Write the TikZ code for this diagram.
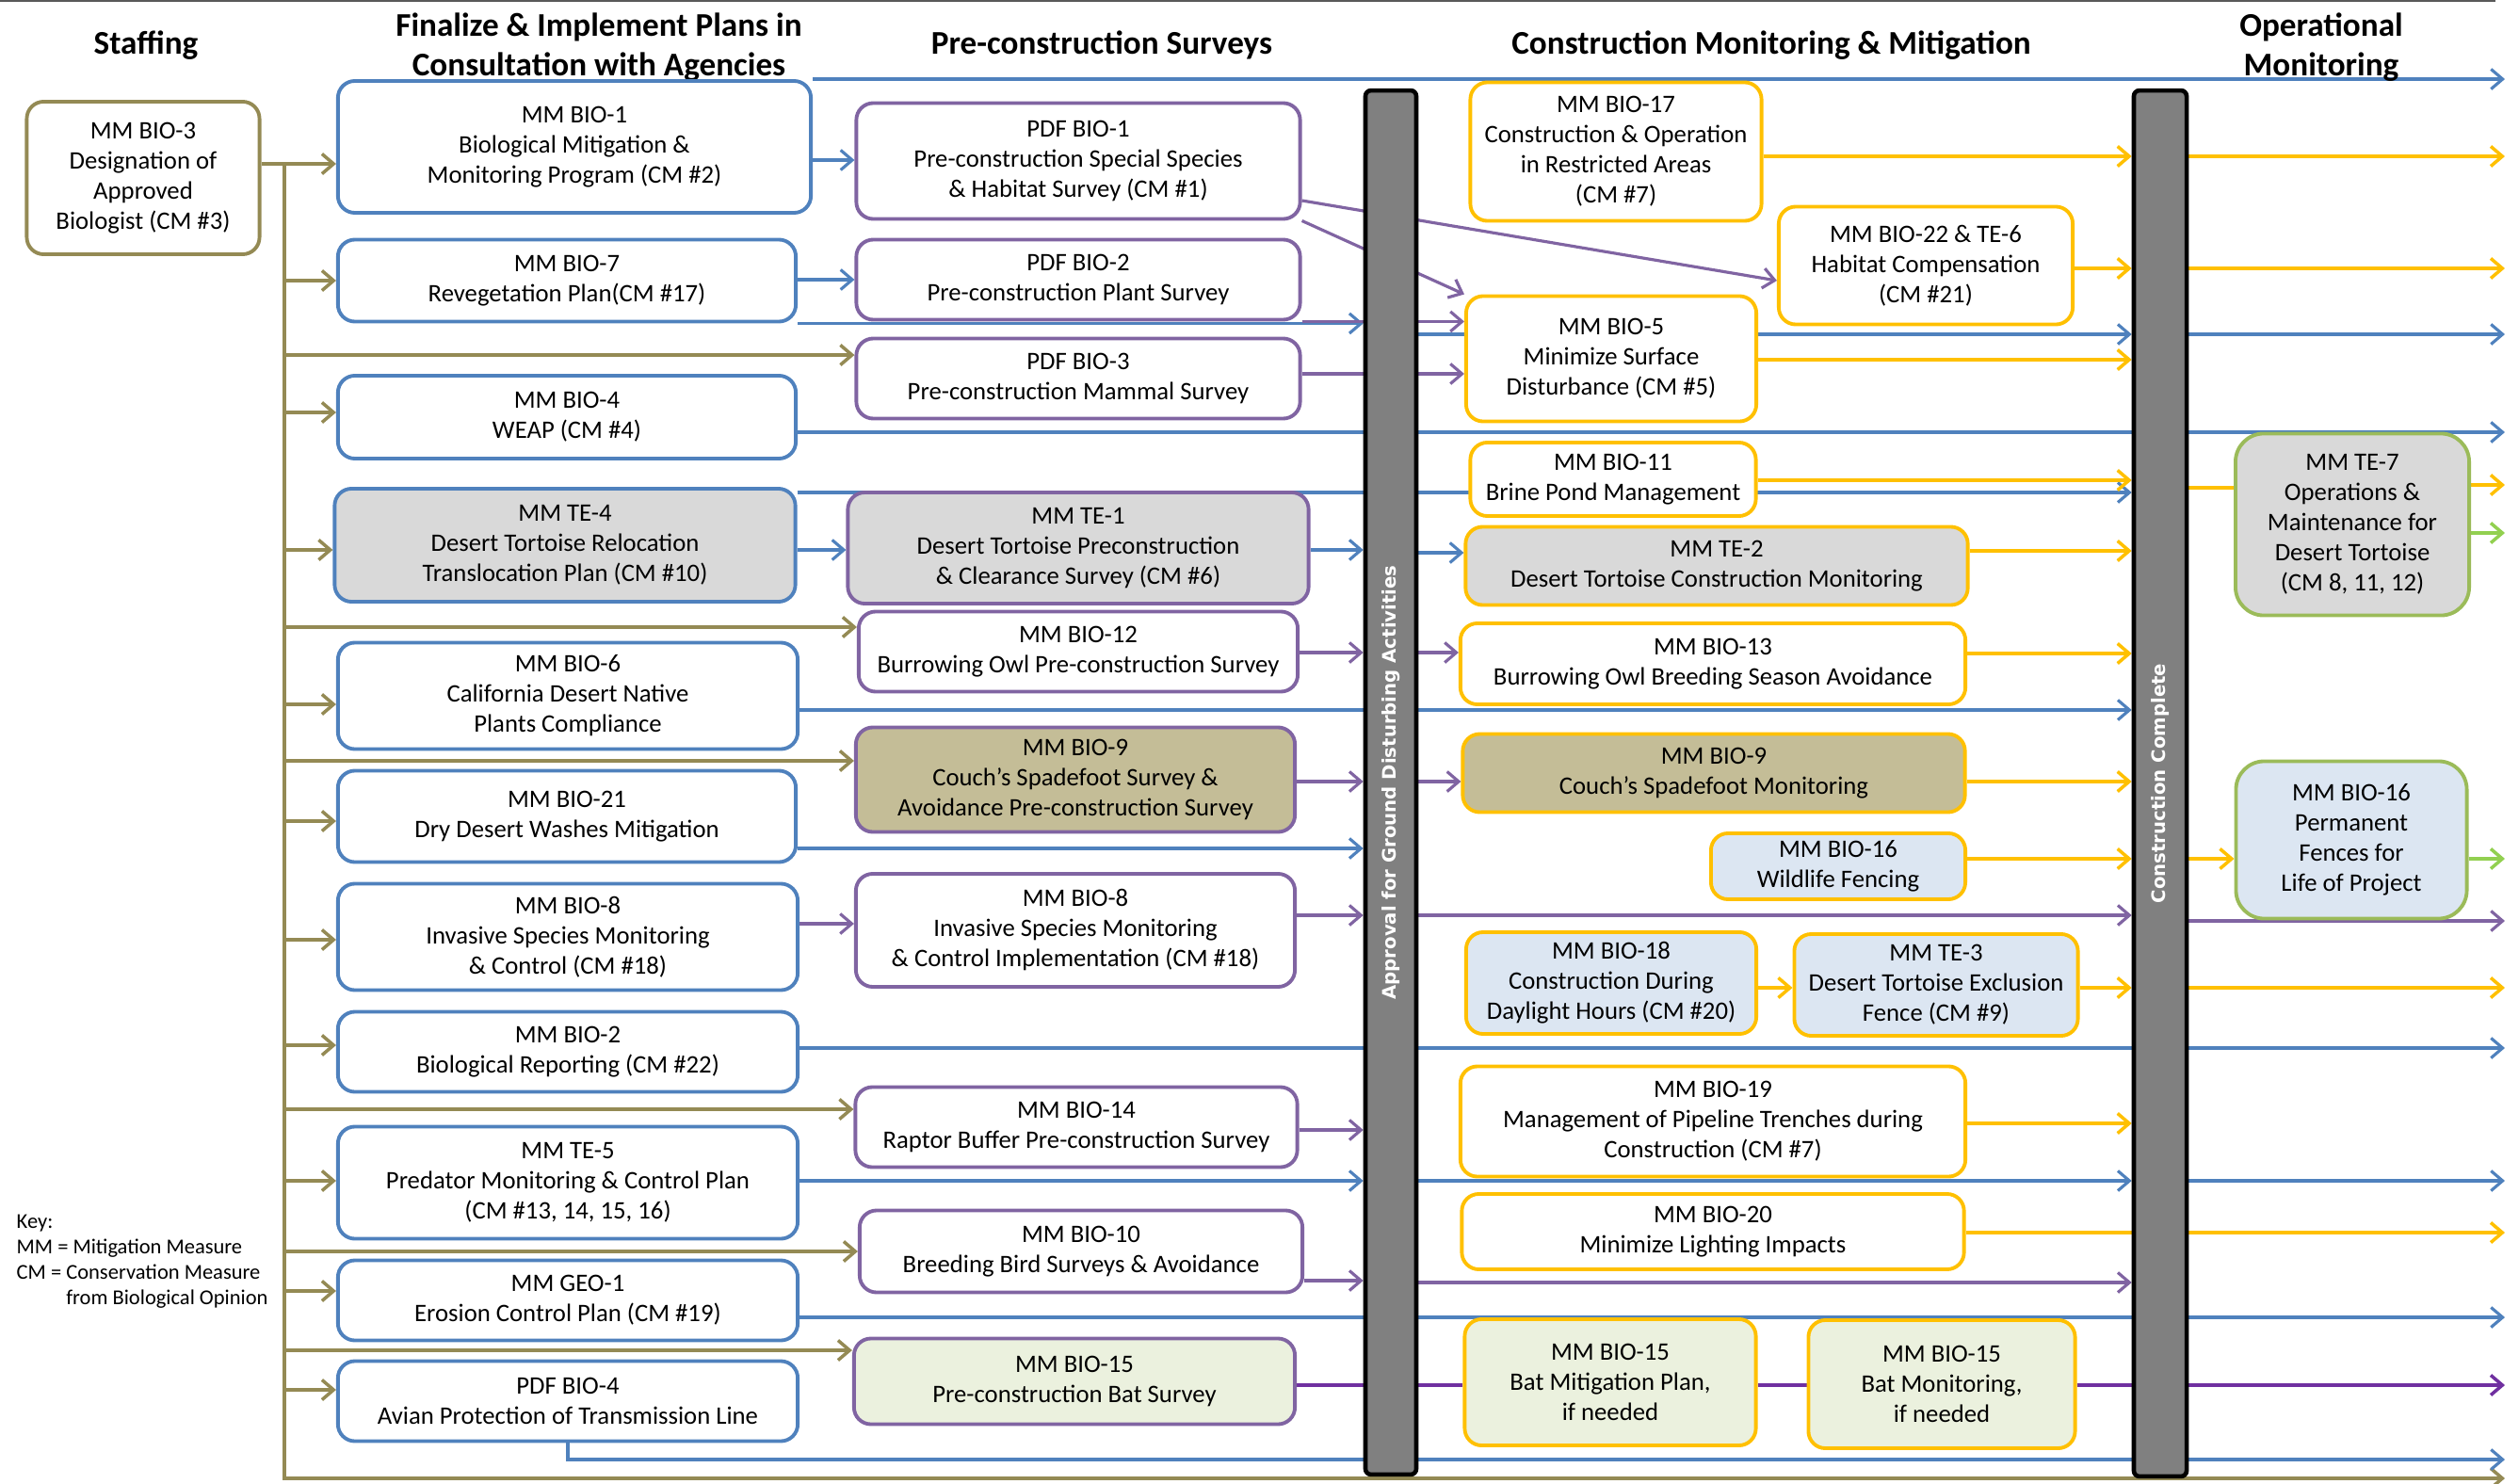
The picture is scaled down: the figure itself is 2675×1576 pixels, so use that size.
\documentclass[tikz,border=0pt]{standalone}
\usepackage{fontspec}
\setmainfont{Carlito}
\newfontfamily\barfont{DejaVu Sans}
\usepackage{tikz}
\usetikzlibrary{arrows.meta,backgrounds}
\definecolor{staffolive}{RGB}{148,138,84}
\definecolor{planblue}{RGB}{79,129,189}
\definecolor{surveypurple}{RGB}{128,100,162}
\definecolor{batpurple}{RGB}{112,48,160}
\definecolor{buildyellow}{RGB}{255,192,0}
\definecolor{opgreen}{RGB}{155,187,89}
\definecolor{leafgreen}{RGB}{146,208,80}
\definecolor{boxgray}{RGB}{217,217,217}
\definecolor{spadetan}{RGB}{196,189,151}
\definecolor{fenceblue}{RGB}{220,230,242}
\definecolor{batgreen}{RGB}{235,241,222}
\definecolor{bargray}{RGB}{128,128,128}

\begin{document}
\begin{tikzpicture}[x=0.01cm, y=-0.01cm,
	>={Straight Barb[length=3.5pt,width=6pt]},
	boxbase/.style={rectangle, rounded corners=0.18cm, line width=1.1pt, align=center, inner sep=1pt, font=\fontsize{7.6}{9.1}\selectfont},
	staffbox/.style={boxbase, draw=staffolive, fill=white},
	planbox/.style={boxbase, draw=planblue, fill=white},
	surveybox/.style={boxbase, draw=surveypurple, fill=white},
	buildbox/.style={boxbase, draw=buildyellow, fill=white},
	opbox/.style={boxbase, draw=opgreen, rounded corners=0.3cm},
	gatebar/.style={rectangle, rounded corners=0.06cm, draw=black, line width=1.3pt, fill=bargray},
	bartext/.style={rotate=90, text=white, font=\barfont\bfseries\fontsize{5.6}{6.5}\selectfont},
	heading/.style={align=center, font=\bfseries\fontsize{10}{11.9}\selectfont},
	staffline/.style={draw=staffolive, line width=1pt},
	planline/.style={draw=planblue, line width=0.9pt},
	surveyline/.style={draw=surveypurple, line width=0.9pt},
	batline/.style={draw=batpurple, line width=1pt},
	buildline/.style={draw=buildyellow, line width=1pt},
	opline/.style={draw=leafgreen, line width=1pt}]
	\useasboundingbox (0,0) rectangle (2675,1576);
	\draw[black!65, line width=0.7pt] (0,1) -- (2650,1);

	\node[heading] (hstaff) at (155,48) {Staffing};
	\node[heading] (hplan) at (636,50) {Finalize \& Implement Plans in\\Consultation with Agencies};
	\node[heading] (hsurvey) at (1170,48) {Pre-construction Surveys};
	\node[heading] (hbuild) at (1881,48) {Construction Monitoring \& Mitigation};
	\node[heading] (hop) at (2465,50) {Operational\\Monitoring};

	\node[anchor=west, align=left, inner sep=0pt, font=\fontsize{6.4}{7.7}\selectfont] (key) at (17,1340) {Key:\\MM = Mitigation Measure\\CM = Conservation Measure\\\phantom{CM = }from Biological Opinion};

	\node[staffbox, minimum width=2.47cm, minimum height=1.62cm] (bio3) at (152,189) {MM BIO-3\\Designation of\\Approved\\Biologist (CM \#3)};

	\node[planbox, minimum width=5.02cm, minimum height=1.40cm] (bio1) at (610,156) {MM BIO-1\\Biological Mitigation \&\\Monitoring Program (CM \#2)};
	\node[planbox, minimum width=4.86cm, minimum height=0.87cm] (bio7) at (602,298) {MM BIO-7\\Revegetation Plan(CM \#17)};
	\node[planbox, minimum width=4.86cm, minimum height=0.88cm] (bio4) at (602,443) {MM BIO-4\\WEAP (CM \#4)};
	\node[planbox, fill=boxgray, minimum width=4.89cm, minimum height=1.20cm] (te4) at (600,579) {MM TE-4\\Desert Tortoise Relocation\\Translocation Plan (CM \#10)};
	\node[planbox, minimum width=4.88cm, minimum height=1.13cm] (bio6) at (603,739) {MM BIO-6\\California Desert Native\\Plants Compliance};
	\node[planbox, minimum width=4.86cm, minimum height=0.97cm] (bio21) at (602,867) {MM BIO-21\\Dry Desert Washes Mitigation};
	\node[planbox, minimum width=4.88cm, minimum height=1.13cm] (bio8a) at (603,995) {MM BIO-8\\Invasive Species Monitoring\\\& Control (CM \#18)};
	\node[planbox, minimum width=4.88cm, minimum height=0.85cm] (bio2) at (603,1117) {MM BIO-2\\Biological Reporting (CM \#22)};
	\node[planbox, minimum width=4.88cm, minimum height=1.19cm] (te5) at (603,1256) {MM TE-5\\Predator Monitoring \& Control Plan\\(CM \#13, 14, 15, 16)};
	\node[planbox, minimum width=4.88cm, minimum height=0.85cm] (geo1) at (603,1381) {MM GEO-1\\Erosion Control Plan (CM \#19)};
	\node[planbox, minimum width=4.88cm, minimum height=0.85cm] (pdf4) at (603,1488) {PDF BIO-4\\Avian Protection of Transmission Line};

	\node[surveybox, minimum width=4.71cm, minimum height=1.23cm] (pdf1) at (1145,171) {PDF BIO-1\\Pre-construction Special Species\\\& Habitat Survey (CM \#1)};
	\node[surveybox, minimum width=4.71cm, minimum height=0.85cm] (pdf2) at (1145,297) {PDF BIO-2\\Pre-construction Plant Survey};
	\node[surveybox, minimum width=4.71cm, minimum height=0.85cm] (pdf3) at (1145,402) {PDF BIO-3\\Pre-construction Mammal Survey};
	\node[surveybox, fill=boxgray, minimum width=4.89cm, minimum height=1.18cm] (te1) at (1145,582) {MM TE-1\\Desert Tortoise Preconstruction\\\& Clearance Survey (CM \#6)};
	\node[surveybox, minimum width=4.66cm, minimum height=0.85cm] (bio12) at (1145,692) {MM BIO-12\\Burrowing Owl Pre-construction Survey};
	\node[surveybox, fill=spadetan, minimum width=4.66cm, minimum height=1.11cm] (bio9a) at (1142,828) {MM BIO-9\\Couch’s Spadefoot Survey \&\\Avoidance Pre-construction Survey};
	\node[surveybox, minimum width=4.66cm, minimum height=1.20cm] (bio8b) at (1142,988) {MM BIO-8\\Invasive Species Monitoring\\\& Control Implementation (CM \#18)};
	\node[surveybox, minimum width=4.69cm, minimum height=0.85cm] (bio14) at (1143,1197) {MM BIO-14\\Raptor Buffer Pre-construction Survey};
	\node[surveybox, minimum width=4.70cm, minimum height=0.87cm] (bio10) at (1148,1329) {MM BIO-10\\Breeding Bird Surveys \& Avoidance};
	\node[surveybox, fill=batgreen, minimum width=4.68cm, minimum height=0.91cm] (bio15a) at (1141,1467) {MM BIO-15\\Pre-construction Bat Survey};

	\node[gatebar, minimum width=0.54cm, minimum height=14.69cm, label={[bartext]center:Approval for Ground Disturbing Activities}] (approve) at (1477,831) {};
	\node[gatebar, minimum width=0.56cm, minimum height=14.71cm, label={[bartext]center:Construction Complete}] (finish) at (2294,832) {};

	\node[buildbox, minimum width=3.09cm, minimum height=1.47cm] (bio17) at (1716,161) {MM BIO-17\\Construction \& Operation\\in Restricted Areas\\(CM \#7)};
	\node[buildbox, minimum width=3.12cm, minimum height=1.25cm] (bio22) at (2045,282) {MM BIO-22 \& TE-6\\Habitat Compensation\\(CM \#21)};
	\node[buildbox, minimum width=3.08cm, minimum height=1.33cm] (bio5) at (1711,381) {MM BIO-5\\Minimize Surface\\Disturbance (CM \#5)};
	\node[buildbox, minimum width=3.03cm, minimum height=0.78cm] (bio11) at (1713,509) {MM BIO-11\\Brine Pond Management};
	\node[buildbox, fill=boxgray, minimum width=5.33cm, minimum height=0.83cm] (te2) at (1823,601) {MM TE-2\\Desert Tortoise Construction Monitoring};
	\node[buildbox, minimum width=5.36cm, minimum height=0.86cm] (bio13) at (1819,705) {MM BIO-13\\Burrowing Owl Breeding Season Avoidance};
	\node[buildbox, fill=spadetan, minimum width=5.33cm, minimum height=0.83cm] (bio9b) at (1820,821) {MM BIO-9\\Couch’s Spadefoot Monitoring};
	\node[buildbox, fill=fenceblue, minimum width=2.70cm, minimum height=0.70cm] (bio16a) at (1952,920) {MM BIO-16\\Wildlife Fencing};
	\node[buildbox, fill=fenceblue, minimum width=3.08cm, minimum height=1.08cm] (bio18) at (1711,1044) {MM BIO-18\\Construction During\\Daylight Hours (CM \#20)};
	\node[buildbox, fill=fenceblue, minimum width=3.01cm, minimum height=1.08cm] (te3) at (2056,1046) {MM TE-3\\Desert Tortoise Exclusion\\Fence (CM \#9)};
	\node[buildbox, minimum width=5.36cm, minimum height=1.17cm] (bio19) at (1819,1191) {MM BIO-19\\Management of Pipeline Trenches during\\Construction (CM \#7)};
	\node[buildbox, minimum width=5.33cm, minimum height=0.80cm] (bio20) at (1819,1308) {MM BIO-20\\Minimize Lighting Impacts};
	\node[buildbox, fill=batgreen, minimum width=3.09cm, minimum height=1.34cm] (bio15b) at (1710,1468) {MM BIO-15\\Bat Mitigation Plan,\\if needed};
	\node[buildbox, fill=batgreen, minimum width=2.83cm, minimum height=1.36cm] (bio15c) at (2062,1470) {MM BIO-15\\Bat Monitoring,\\if needed};

	\node[opbox, fill=boxgray, minimum width=2.48cm, minimum height=1.93cm] (te7) at (2498,557) {MM TE-7\\Operations \&\\Maintenance for\\Desert Tortoise\\(CM 8, 11, 12)};
	\node[opbox, fill=fenceblue, minimum width=2.45cm, minimum height=1.67cm] (bio16b) at (2497,892) {MM BIO-16\\Permanent\\Fences for\\Life of Project};

	\begin{scope}[on background layer]
		\coordinate (trunk) at (302,174);
		\coordinate (trunkfoot) at (302,1570);
		\coordinate (rim) at (2660,0);

		\draw[staffline, ->] (bio3.east |- trunk) -- (bio1.west |- trunk);
		\draw[staffline, ->] (trunk) -- (trunkfoot) -- (rim |- trunkfoot);
		\foreach \y/\b in {298/bio7, 377/pdf3, 438/bio4, 584/te4, 666/bio12, 748/bio6, 808/bio9a, 872/bio21, 998/bio8a, 1110/bio2, 1178/bio14, 1254/te5, 1329/bio10, 1371/geo1, 1434/bio15a, 1476/pdf4}
			\draw[staffline, ->] (trunk |- 0,\y) -- (\b.west |- 0,\y);

		\draw[planline, ->] (bio1.north east) -- (rim |- bio1.north east);
		\draw[planline, ->] (bio1.east |- 0,170) -- (pdf1.west |- 0,170);
		\draw[planline, ->] (bio7.east |- 0,297) -- (pdf2.west |- 0,297);
		\draw[planline, ->] (bio7.south east) -- (approve.west |- bio7.south east);
		\draw[planline, ->] (approve.east |- 0,355) -- (finish.west |- 0,355);
		\draw[planline, ->] (finish.east |- 0,355) -- (rim |- 0,355);
		\draw[planline, ->] (bio4.east |- 0,459) -- (rim |- 0,459);
		\draw[planline, ->] (te4.east |- 0,523) -- (finish.west |- 0,523);
		\draw[planline, ->] (te4.east |- 0,584) -- (te1.west |- 0,584);
		\draw[planline, ->] (te1.east |- 0,584) -- (approve.west |- 0,584);
		\draw[planline, ->] (approve.east |- 0,587) -- (te2.west |- 0,587);
		\draw[planline, ->] (bio6.east |- 0,754) -- (finish.west |- 0,754);
		\draw[planline, ->] (bio21.east |- 0,901) -- (approve.west |- 0,901);
		\draw[planline, ->] (bio2.east |- 0,1113) -- (rim |- 0,1113);
		\draw[planline, ->] (te5.east |- 0,1254) -- (approve.west |- 0,1254);
		\draw[planline, ->] (approve.east |- 0,1254) -- (finish.west |- 0,1254);
		\draw[planline, ->] (finish.east |- 0,1254) -- (rim |- 0,1254);
		\draw[planline, ->] (geo1.east |- 0,1399) -- (rim |- 0,1399);
		\draw[planline, ->] (pdf4.south) -- (pdf4.south |- 0,1550) -- (rim |- 0,1550);

		\draw[surveyline, ->] (pdf1.south east) -- (bio5.north west);
		\draw[surveyline, ->] (pdf1.east |- 0,213) -- (bio22.west |- 0,298);
		\draw[surveyline, ->] (pdf2.south east) -- (bio5.west |- pdf2.south east);
		\draw[surveyline, ->] (pdf3.east |- 0,397) -- (bio5.west |- 0,397);
		\draw[surveyline, ->] (bio12.east |- 0,693) -- (approve.west |- 0,693);
		\draw[surveyline, ->] (approve.east |- 0,693) -- (bio13.west |- 0,693);
		\draw[surveyline, ->] (bio9a.east |- 0,830) -- (approve.west |- 0,830);
		\draw[surveyline, ->] (approve.east |- 0,830) -- (bio9b.west |- 0,830);
		\draw[surveyline, ->] (bio8a.east |- 0,981) -- (bio8b.west |- 0,981);
		\draw[surveyline, ->] (bio8b.east |- 0,972) -- (approve.west |- 0,972);
		\draw[surveyline, ->] (approve.east |- 0,972) -- (finish.west |- 0,972);
		\draw[surveyline, ->] (finish.east |- 0,978) -- (rim |- 0,978);
		\draw[surveyline, ->] (bio14.east |- 0,1200) -- (approve.west |- 0,1200);
		\draw[surveyline, ->] (bio10.east |- 0,1360) -- (approve.west |- 0,1360);
		\draw[surveyline, ->] (approve.east |- 0,1362) -- (finish.west |- 0,1362);

		\draw[batline] (bio15a.east |- 0,1471) -- (bio15b.west |- 0,1471);
		\draw[batline] (bio15b.east |- 0,1471) -- (bio15c.west |- 0,1471);
		\draw[batline, ->] (bio15c.east |- 0,1471) -- (rim |- 0,1471);

		\draw[buildline, ->] (bio17.east |- 0,166) -- (finish.west |- 0,166);
		\draw[buildline, ->] (finish.east |- 0,166) -- (rim |- 0,166);
		\draw[buildline, ->] (bio22.east |- 0,285) -- (finish.west |- 0,285);
		\draw[buildline, ->] (finish.east |- 0,285) -- (rim |- 0,285);
		\draw[buildline, ->] (bio5.east |- 0,382) -- (finish.west |- 0,382);
		\draw[buildline, ->] (bio11.east |- 0,510) -- (finish.west |- 0,510);
		\draw[buildline] (finish.east |- 0,518) -- (te7.west |- 0,518);
		\draw[buildline, ->] (te7.east |- 0,515) -- (rim |- 0,515);
		\draw[buildline, ->] (te2.east |- 0,585) -- (finish.west |- 0,585);
		\draw[buildline, ->] (bio13.east |- 0,694) -- (finish.west |- 0,694);
		\draw[buildline, ->] (bio9b.east |- 0,830) -- (finish.west |- 0,830);
		\draw[buildline, ->] (bio16a.east |- 0,912) -- (finish.west |- 0,912);
		\draw[buildline, ->] (finish.east |- 0,912) -- (bio16b.west |- 0,912);
		\draw[buildline, ->] (bio18.east |- 0,1049) -- (te3.west |- 0,1049);
		\draw[buildline, ->] (te3.east |- 0,1049) -- (finish.west |- 0,1049);
		\draw[buildline, ->] (finish.east |- 0,1049) -- (rim |- 0,1049);
		\draw[buildline, ->] (bio19.east |- 0,1193) -- (finish.west |- 0,1193);
		\draw[buildline] (bio20.east |- 0,1309) -- (finish.west |- 0,1309);
		\draw[buildline, ->] (finish.east |- 0,1309) -- (rim |- 0,1309);

		\draw[opline, ->] (te7.east |- 0,566) -- (rim |- 0,566);
		\draw[opline, ->] (bio16b.east |- 0,912) -- (rim |- 0,912);
	\end{scope}
\end{tikzpicture}
\end{document}
